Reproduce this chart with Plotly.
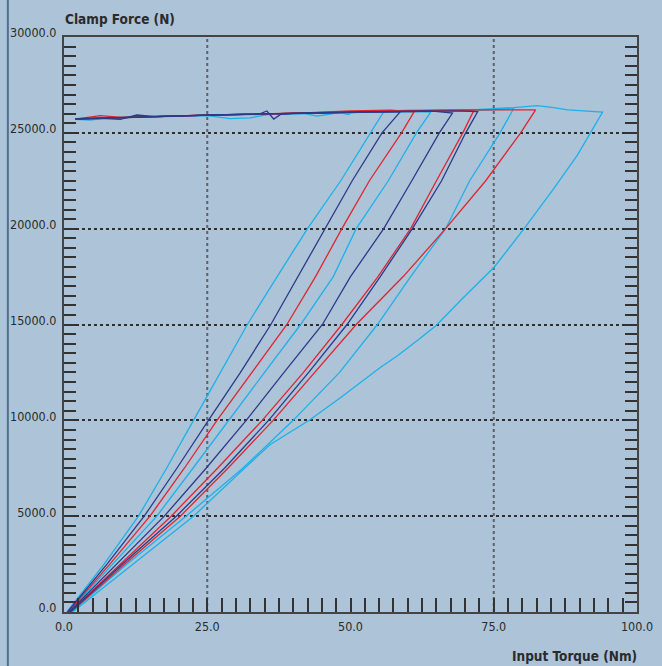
import plotly.graph_objects as go

# Clamp force (N) against input torque (Nm) for ten tightening runs.
# Each run climbs the loading ramp to its peak, then returns along the
# clamp-force plateau back to low torque.

cyan_a_torque = [0.5, 7.0, 13.0, 17.9, 22.6, 27.3, 32.0, 37.2, 42.5, 48.3, 53.5, 55.8,
                 50.0, 49.7, 48.0, 44.2, 42.0, 36.0, 32.5, 29.0, 25.0, 15.0, 8.0, 4.5, 2.0]
cyan_a_force = [0, 2500, 5000, 7500, 10000, 12500, 15000, 17500, 20000, 22500, 25000, 26110,
                26060, 25960, 26050, 25870, 26000, 25980, 25780, 25740, 25900, 25830, 25780, 25660, 25700]

navy_a_torque = [0.6, 7.5, 14.0, 19.7, 25.2, 30.8, 36.1, 40.8, 45.6, 50.3, 55.5, 58.7,
                 52.0, 45.0, 40.0, 37.8, 36.6, 35.4, 34.0, 25.0, 16.0, 12.7, 9.8, 6.0, 2.0]
navy_a_force = [0, 2500, 5000, 7500, 10000, 12500, 15000, 17500, 20000, 22500, 25000, 26110,
                26090, 26050, 26010, 25960, 25720, 26140, 25960, 25920, 25850, 25930, 25700, 25770, 25730]

red_a_torque = [0.7, 8.0, 15.0, 21.0, 26.7, 32.8, 38.9, 43.9, 48.5, 53.3, 58.9, 61.1,
                57.0, 50.0, 42.0, 30.0, 20.0, 10.0, 6.3, 2.0]
red_a_force = [0, 2500, 5000, 7500, 10000, 12500, 15000, 17500, 20000, 22500, 25000, 26100,
               26180, 26150, 26040, 25960, 25880, 25810, 25900, 25720]

cyan_b_torque = [0.8, 8.5, 16.2, 22.5, 28.7, 35.0, 41.3, 47.0, 51.0, 56.6, 61.5, 64.0,
                 60.0, 55.0, 47.0, 38.0, 30.0, 22.0, 12.0, 5.0, 2.0]
cyan_b_force = [0, 2500, 5000, 7500, 10000, 12500, 15000, 17500, 20000, 22500, 25000, 26080,
                26110, 26090, 26030, 26000, 25950, 25880, 25820, 25700, 25700]

navy_b_torque = [0.9, 9.2, 17.5, 24.8, 31.8, 38.4, 45.1, 50.0, 55.8, 60.7, 65.5, 67.8,
                 64.0, 58.0, 50.0, 44.0, 38.0, 27.0, 18.0, 10.0, 2.0]
navy_b_force = [0, 2500, 5000, 7500, 10000, 12500, 15000, 17500, 20000, 22500, 25000, 26030,
                26150, 26120, 26080, 26020, 25990, 25940, 25860, 25780, 25720]

red_b_torque = [1.0, 9.8, 18.7, 26.8, 34.6, 41.8, 48.5, 54.8, 60.5, 65.0, 69.6, 71.5,
                66.0, 60.0, 52.0, 45.0, 35.0, 25.0, 14.0, 6.0, 2.0]
red_b_force = [0, 2500, 5000, 7500, 10000, 12500, 15000, 17500, 20000, 22500, 25000, 26150,
               26190, 26170, 26120, 26060, 25990, 25920, 25840, 25760, 25710]

navy_c_torque = [1.1, 10.2, 19.6, 28.0, 35.7, 42.7, 49.4, 55.2, 60.8, 65.9, 70.1, 72.2,
                 68.0, 62.0, 56.0, 48.0, 40.0, 30.0, 20.0, 11.0, 2.0]
navy_c_force = [0, 2500, 5000, 7500, 10000, 12500, 15000, 17500, 20000, 22500, 25000, 26110,
                26150, 26130, 26100, 26060, 26020, 25960, 25880, 25800, 25740]

red_c_torque = [1.2, 10.6, 20.3, 28.6, 36.5, 43.8, 51.0, 59.2, 66.6, 73.6, 79.7, 82.3,
                76.0, 70.0, 62.0, 52.0, 42.0, 32.0, 22.0, 12.0, 2.0]
red_c_force = [0, 2500, 5000, 7500, 10000, 12500, 15000, 17500, 20000, 22500, 25000, 26200,
               26210, 26200, 26150, 26110, 26030, 25970, 25900, 25810, 25720]

cyan_c_torque = [1.3, 11.0, 21.3, 31.2, 40.0, 48.1, 54.7, 60.5, 66.6, 70.8, 76.1, 78.5,
                 74.0, 68.0, 60.0, 54.0, 46.0, 38.0, 28.0, 18.0, 9.0, 2.0]
cyan_c_force = [0, 2500, 5000, 7500, 10000, 12500, 15000, 17500, 20000, 22500, 25000, 26280,
                26180, 26150, 26120, 26090, 26060, 26020, 25950, 25870, 25790, 25700]

cyan_d_torque = [1.5, 12.0, 22.6, 31.5, 34.3, 36.0, 42.8, 48.3, 55.2, 58.2, 62.0, 64.9, 69.5,
                 75.1, 80.3, 85.5, 89.6, 94.0,
                 87.9, 85.5, 82.6, 78.5, 72.0, 64.0, 56.0, 46.0, 36.0, 26.0, 16.0, 8.0, 2.0]
cyan_d_force = [0, 2500, 5000, 7500, 8300, 8740, 10000, 11190, 12760, 13370, 14240, 14940, 16340,
                18000, 20000, 22100, 23840, 26080,
                26200, 26320, 26420, 26320, 26210, 26170, 26110, 26060, 25990, 25930, 25850, 25780, 25720]

CYAN = "#1db1e9"
NAVY = "#2c3a8a"
RED = "#de2631"

runs = [
    (cyan_a_torque, cyan_a_force, CYAN),
    (cyan_b_torque, cyan_b_force, CYAN),
    (cyan_c_torque, cyan_c_force, CYAN),
    (cyan_d_torque, cyan_d_force, CYAN),
    (red_a_torque, red_a_force, RED),
    (red_b_torque, red_b_force, RED),
    (red_c_torque, red_c_force, RED),
    (navy_a_torque, navy_a_force, NAVY),
    (navy_b_torque, navy_b_force, NAVY),
    (navy_c_torque, navy_c_force, NAVY),
]

X_TICKS = [0, 25, 50, 75, 100]
X_GRID = [25, 75]
Y_TICKS = [0, 5000, 10000, 15000, 20000, 25000, 30000]

BG = "#adc3d7"
INK = "#2b2b2b"
FONT = "DejaVu Sans Condensed, Liberation Sans, sans-serif"

fig = go.Figure()
for torque, force, colour in runs:
    fig.add_trace(go.Scatter(
        x=torque, y=force, mode="lines",
        line=dict(color=colour, width=1.3),
        hoverinfo="x+y", showlegend=False,
    ))

# dotted vertical guides at 25 and 75 Nm
for gx in X_GRID:
    fig.add_shape(type="line", xref="x", yref="paper", x0=gx, x1=gx, y0=0, y1=1,
                  line=dict(color="#5e6268", width=2, dash="dot"), layer="below")

# dark rule along the left edge of the panel
fig.add_shape(type="line", xref="paper", yref="paper", x0=-0.098, x1=-0.098,
              y0=-0.1, y1=1.07, line=dict(color="#4f6f8f", width=2))

fig.update_layout(
    width=662, height=666,
    margin=dict(l=64, r=25, t=37, b=54, autoexpand=False),
    paper_bgcolor=BG, plot_bgcolor=BG,
    font=dict(family=FONT, size=12.5, color=INK),
    showlegend=False,
    xaxis=dict(
        range=[0, 100], tickvals=X_TICKS, tickformat=".1f",
        ticks="inside", ticklen=14, tickwidth=1.5, tickcolor="#333",
        minor=dict(dtick=2.5, tick0=0, ticks="inside", ticklen=14, tickwidth=1.5,
                   tickcolor="#333", showgrid=False),
        showline=True, linecolor="#444", linewidth=2, mirror=True,
        showgrid=False, zeroline=False, automargin=False,
        ticklabelstandoff=2,
        tickfont=dict(family=FONT, size=12.5, color=INK),
    ),
    yaxis=dict(
        range=[0, 30000], tickvals=Y_TICKS, tickformat=".1f",
        ticks="inside", ticklen=12, tickwidth=1.5, tickcolor="#333",
        minor=dict(dtick=500, tick0=0, ticks="inside", ticklen=12, tickwidth=1.5,
                   tickcolor="#333", showgrid=False),
        showline=True, linecolor="#444", linewidth=2, mirror="ticks",
        showgrid=True, gridcolor="#2e2e2e", gridwidth=1.5, griddash="dot",
        zeroline=False, automargin=False,
        ticklabelstandoff=3, ticklabelshift=-4,
        tickfont=dict(family=FONT, size=12.5, color=INK),
    ),
    annotations=[
        dict(text="<b>Clamp Force (N)</b>", xref="paper", yref="paper",
             x=0.0, y=1.0, xanchor="left", yanchor="bottom", yshift=8, xshift=-1,
             showarrow=False, font=dict(family=FONT, size=13.5, color=INK)),
        dict(text="<b>Input Torque (Nm)</b>", xref="paper", yref="paper",
             x=1.0, y=0.0, xanchor="right", yanchor="top", yshift=-34, xshift=2,
             showarrow=False, font=dict(family=FONT, size=13.5, color=INK)),
    ],
)

fig.write_html("out.html")
